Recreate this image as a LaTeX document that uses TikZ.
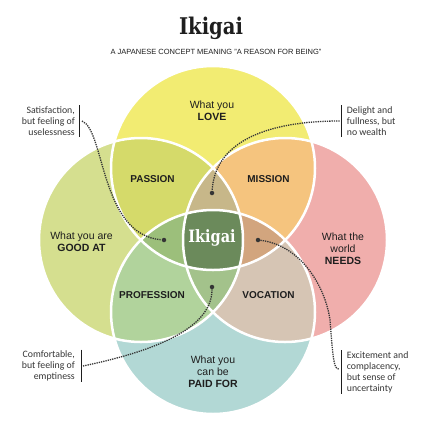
\documentclass[tikz,border=0pt]{standalone}
\usepackage{fontspec}
\setmainfont{Liberation Sans}
\newfontfamily\notefont{Carlito}
\newfontfamily\slabfont[FakeStretch=0.85]{DejaVu Serif}
\usepackage{tikz}
\usetikzlibrary{positioning}
\newcommand{\circr}{102pt}
\definecolor{loveyellow}{HTML}{F2EC72}
\definecolor{goodgreen}{HTML}{D5DF8F}
\definecolor{needspink}{HTML}{F0AEAC}
\definecolor{paidteal}{HTML}{B2D8D5}
\definecolor{passioncol}{HTML}{D5DA6A}
\definecolor{missioncol}{HTML}{F5C47E}
\definecolor{professioncol}{HTML}{B1D39C}
\definecolor{vocationcol}{HTML}{D6C5B4}
\definecolor{toptriple}{HTML}{C7B789}
\definecolor{lefttriple}{HTML}{9CBF7B}
\definecolor{righttriple}{HTML}{D2A57E}
\definecolor{bottomtriple}{HTML}{A3C28B}
\definecolor{ikigaigreen}{HTML}{6B8A5B}
\definecolor{inkgray}{HTML}{1E1E1E}
\tikzstyle{regiontext} = [align=center, text=inkgray, font=\fontsize{10.5}{12}\selectfont]
\tikzstyle{zonename} = [text=inkgray, font=\fontsize{10}{12}\selectfont\bfseries]
\tikzstyle{notetext} = [text=inkgray!90, inner xsep=0pt, inner ysep=1pt, font=\notefont\fontsize{9.8}{11}\selectfont]
\tikzstyle{notebar} = [draw=inkgray, line width=0.9pt]
\tikzstyle{spot} = [circle, fill=inkgray!90, inner sep=0pt, minimum size=4.5pt]
\tikzstyle{dottedlink} = [draw=inkgray!90, line width=1.3pt, densely dotted]
\tikzstyle{border} = [draw=white, line width=2.5pt]
\begin{document}
\begin{tikzpicture}[x=1pt,y=-1pt]
					\useasboundingbox (0,0) rectangle (433,421);
					\coordinate (love) at (213,168);
					\coordinate (good) at (141,240);
					\coordinate (needs) at (285,240);
					\coordinate (paid) at (213,312);
					\fill[goodgreen] (good) circle[radius=\circr];
					\fill[needspink] (needs) circle[radius=\circr];
					\fill[paidteal] (paid) circle[radius=\circr];
					\fill[loveyellow] (love) circle[radius=\circr];
					\begin{scope}
						\clip (love) circle[radius=\circr];
						\fill[passioncol] (good) circle[radius=\circr];
						\fill[missioncol] (needs) circle[radius=\circr];
					\end{scope}
					\begin{scope}
						\clip (paid) circle[radius=\circr];
						\fill[professioncol] (good) circle[radius=\circr];
						\fill[vocationcol] (needs) circle[radius=\circr];
					\end{scope}
					\begin{scope}
						\clip (love) circle[radius=\circr];
						\clip (good) circle[radius=\circr];
						\fill[lefttriple] (paid) circle[radius=\circr];
						\fill[toptriple] (needs) circle[radius=\circr];
					\end{scope}
					\begin{scope}
						\clip (paid) circle[radius=\circr];
						\clip (needs) circle[radius=\circr];
						\fill[righttriple] (love) circle[radius=\circr];
						\fill[bottomtriple] (good) circle[radius=\circr];
					\end{scope}
					\begin{scope}
						\clip (love) circle[radius=\circr];
						\clip (good) circle[radius=\circr];
						\clip (needs) circle[radius=\circr];
						\fill[ikigaigreen] (paid) circle[radius=\circr];
					\end{scope}
					\draw[border] (love) circle[radius=\circr];
					\draw[border] (good) circle[radius=\circr];
					\draw[border] (needs) circle[radius=\circr];
					\draw[border] (paid) circle[radius=\circr];

					\node[text=inkgray, font=\slabfont\bfseries\fontsize{23}{25}\selectfont] (title) at (211,28.5) {Ikigai};
					\node[text=inkgray, font=\fontsize{7.5}{9}\selectfont] (subtitle) at (216,52) {A JAPANESE CONCEPT MEANING "A REASON FOR BEING"};

					\node[regiontext] (lovetext) at (212,111) {What you\\\textbf{LOVE}};
					\node[regiontext] (goodtext) at (81.5,242) {What you are\\\textbf{GOOD AT}};
					\node[regiontext] (needstext) at (343,248.5) {What the\\world\\\textbf{NEEDS}};
					\node[regiontext] (paidtext) at (213,371.5) {What you\\can be\\\textbf{PAID FOR}};

					\node[zonename] (passion) at (152.5,179) {PASSION};
					\node[zonename] (mission) at (268.5,179) {MISSION};
					\node[zonename] (profession) at (152,295) {PROFESSION};
					\node[zonename] (vocation) at (268.5,295) {VOCATION};
					\node[text=white, font=\slabfont\bfseries\fontsize{17}{19}\selectfont] (ikigai) at (212,238) {Ikigai};

					\node[notetext, align=right, anchor=east] (satisfaction) at (75,121) {Satisfaction,\\but feeling of\\uselessness};
					\node[notetext, align=left, anchor=west] (delight) at (346.7,121) {Delight and\\fullness, but\\no wealth};
					\node[notetext, align=right, anchor=east] (comfortable) at (75,366) {Comfortable,\\but feeling of\\emptiness};
					\node[notetext, align=left, anchor=west] (excitement) at (346.7,372) {Excitement and\\complacency,\\but sense of\\uncertainty};
					\draw[notebar] ([xshift=4.5pt]satisfaction.north east) -- ([xshift=4.5pt]satisfaction.south east);
					\draw[notebar] ([xshift=-5pt]delight.north west) -- ([xshift=-5pt]delight.south west);
					\draw[notebar] ([xshift=6pt]comfortable.north east) -- ([xshift=6pt]comfortable.south east);
					\draw[notebar] ([xshift=-5pt]excitement.north west) -- ([xshift=-5pt]excitement.south west);
					\coordinate (satisfactionend) at ([xshift=7pt]satisfaction.east);
					\coordinate (delightend) at ([xshift=-7pt]delight.west);
					\coordinate (comfortableend) at ([xshift=8pt]comfortable.east);
					\coordinate (excitementend) at ([xshift=-8pt,yshift=3pt]excitement.west);

					\node[spot] (uselessspot) at (164,240) {};
					\node[spot] (wealthspot) at (212,193) {};
					\node[spot] (emptinessspot) at (212,287) {};
					\node[spot] (uncertaintyspot) at (258,240) {};
					\draw[dottedlink] (satisfactionend) .. controls (105,130) and (100,235) .. (uselessspot);
					\draw[dottedlink] (delightend) .. controls (270,121) and (215,140) .. (wealthspot);
					\draw[dottedlink] (comfortableend) .. controls (150,352) and (212,330) .. (emptinessspot);
					\draw[dottedlink] (uncertaintyspot) .. controls (300,245) and (325,285) .. (330,320) .. controls (333,360) and (334,369) .. (excitementend);
\end{tikzpicture}
\end{document}
